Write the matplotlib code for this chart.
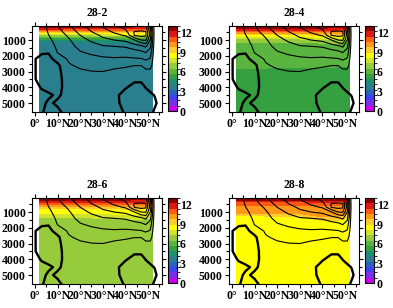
import numpy as np
import matplotlib
matplotlib.use("Agg")
from matplotlib import pyplot as plt
from matplotlib.colors import ListedColormap, BoundaryNorm

plt.rcParams['font.family'] = ['Liberation Serif', 'DejaVu Serif']
plt.rcParams['font.weight'] = 'bold'

titles = ["28-2", "28-4", "28-6", "28-8"]

# colour scale (16 boxes over 0..13)
box_colors = ['#c800f0', '#7a30e6', '#4040ee', '#2a62c0', '#2a7f8f', '#1c9070',
              '#34a040', '#5ab440', '#96cc3c', '#d0e42c', '#ffff00', '#ffcc30',
              '#ff9a18', '#ff5a14', '#dc1a10', '#8c0000']
cbar_ticks = [0, 3, 6, 9, 12]

# temperature grid
lat_t = [1.8, 10, 20, 30, 40, 46, 52.2]
dep_t = [110, 250, 400, 550, 700, 870, 1050, 1300, 1600, 2000, 2500, 3000, 3500, 4500, 5600]

temp_282 = [
    [12.8, 12.8, 12.8, 12.8, 12.7, 12.5, 12.3],
    [12.0, 12.0, 11.9, 11.9, 11.8, 11.6, 11.2],
    [10.2, 10.2, 10.2, 10.3, 10.4, 10.4, 10.0],
    [8.6, 8.6, 8.6, 8.7, 8.9, 9.0, 8.6],
    [7.0, 7.0, 7.0, 7.2, 7.5, 7.7, 7.2],
    [5.6, 5.6, 5.6, 5.7, 5.9, 6.0, 5.7],
    [4.2, 4.2, 4.2, 4.3, 4.4, 4.5, 4.3],
    [3.7, 3.7, 3.7, 3.7, 3.7, 3.7, 3.7],
    [3.6, 3.6, 3.6, 3.6, 3.6, 3.6, 3.6],
    [3.6, 3.6, 3.6, 3.6, 3.6, 3.6, 3.6],
    [3.6, 3.6, 3.6, 3.6, 3.6, 3.6, 3.6],
    [3.6, 3.6, 3.6, 3.6, 3.6, 3.6, 3.6],
    [3.6, 3.6, 3.6, 3.6, 3.6, 3.6, 3.6],
    [3.6, 3.6, 3.6, 3.6, 3.6, 3.6, 3.6],
    [3.6, 3.6, 3.6, 3.6, 3.6, 3.6, 3.6],
]
temp_284 = [
    [12.8, 12.8, 12.8, 12.8, 12.8, 12.7, 12.5],
    [12.3, 12.3, 12.3, 12.3, 12.2, 12.0, 11.8],
    [11.2, 11.2, 11.2, 11.2, 11.3, 11.2, 10.9],
    [9.8, 9.8, 9.8, 9.9, 10.0, 10.0, 9.7],
    [8.6, 8.6, 8.6, 8.7, 8.9, 9.0, 8.6],
    [7.5, 7.5, 7.5, 7.6, 7.8, 7.9, 7.5],
    [6.8, 6.8, 6.8, 6.8, 6.9, 7.0, 6.8],
    [6.2, 6.2, 6.2, 6.2, 6.2, 6.2, 6.2],
    [6.1, 6.1, 6.1, 6.1, 6.1, 6.1, 6.1],
    [6.0, 6.0, 6.0, 6.0, 6.0, 6.0, 6.0],
    [5.95, 5.95, 5.9, 5.85, 5.8, 5.75, 5.72],
    [5.5, 5.5, 5.5, 5.55, 5.6, 5.6, 5.6],
    [5.4, 5.4, 5.4, 5.4, 5.4, 5.4, 5.4],
    [5.4, 5.4, 5.4, 5.4, 5.4, 5.4, 5.4],
    [5.4, 5.4, 5.4, 5.4, 5.4, 5.4, 5.4],
]
temp_286 = [
    [12.8, 12.8, 12.8, 12.8, 12.8, 12.7, 12.5],
    [12.3, 12.3, 12.3, 12.3, 12.2, 12.0, 11.8],
    [11.4, 11.4, 11.4, 11.4, 11.4, 11.3, 11.0],
    [10.2, 10.2, 10.2, 10.2, 10.3, 10.3, 10.0],
    [9.3, 9.3, 9.3, 9.3, 9.4, 9.4, 9.2],
    [8.6, 8.6, 8.6, 8.6, 8.7, 8.7, 8.6],
    [8.2, 8.2, 8.25, 8.3, 8.5, 8.5, 8.3],
    [7.4, 7.4, 7.4, 7.45, 7.7, 7.7, 7.4],
    [7.0, 7.0, 7.0, 7.0, 7.0, 7.0, 7.0],
    [6.9, 6.9, 6.9, 6.9, 6.9, 6.9, 6.9],
    [6.9, 6.9, 6.9, 6.9, 6.9, 6.9, 6.9],
    [6.9, 6.9, 6.9, 6.9, 6.9, 6.9, 6.9],
    [6.9, 6.9, 6.9, 6.9, 6.9, 6.9, 6.9],
    [6.9, 6.9, 6.9, 6.9, 6.9, 6.9, 6.9],
    [6.9, 6.9, 6.9, 6.9, 6.9, 6.9, 6.9],
]
temp_288 = [
    [12.9, 12.9, 12.9, 12.9, 12.9, 12.8, 12.6],
    [12.5, 12.5, 12.5, 12.5, 12.4, 12.3, 12.0],
    [11.0, 11.0, 11.0, 11.0, 11.1, 11.1, 10.8],
    [10.6, 10.6, 10.6, 10.6, 10.7, 10.7, 10.5],
    [10.2, 10.2, 10.2, 10.2, 10.3, 10.3, 10.1],
    [10.0, 10.0, 10.0, 10.0, 10.1, 10.1, 9.95],
    [9.85, 9.85, 9.9, 9.95, 10.1, 10.1, 9.9],
    [8.7, 8.7, 8.75, 8.9, 9.8, 9.8, 8.9],
    [8.5, 8.5, 8.5, 8.55, 8.7, 8.75, 8.6],
    [8.5, 8.5, 8.5, 8.5, 8.5, 8.5, 8.5],
    [8.5, 8.5, 8.5, 8.5, 8.5, 8.5, 8.5],
    [8.5, 8.5, 8.5, 8.5, 8.5, 8.5, 8.5],
    [8.5, 8.5, 8.5, 8.5, 8.5, 8.5, 8.5],
    [8.5, 8.5, 8.5, 8.5, 8.5, 8.5, 8.5],
    [8.5, 8.5, 8.5, 8.5, 8.5, 8.5, 8.5],
]
temps = [temp_282, temp_284, temp_286, temp_288]

# overturning-like field drawn as black contours (same in every panel)
lat_p = [0, 3, 6, 10, 15, 20, 25, 30, 35, 40, 44, 47, 49, 51, 53, 55]
dep_p = [110, 300, 500, 700, 1000, 1400, 1800, 2200, 2600, 3000, 3500, 4000, 4500, 5000, 5600]
psi_cols = [
    [0.5, 0.5, 0.5, 0.5, 0.5, 0.5, 0.5, 0.1, 0.1, 0.1, 0.1, 0.3, 0.4, 0.4, 0.4],        # 0
    [1.2, 1.1, 1.0, 0.9, 0.8, 0.6, 0.3, -0.9, -0.9, -0.9, -0.8, -0.1, 0.3, 0.3, 0.1],  # 3
    [2.5, 2.3, 2.15, 1.95, 1.6, 1.0, 0.1, -0.6, -0.8, -0.8, -0.7, -0.4, 0.2, -0.2, -0.4],  # 6
    [3.9, 3.6, 3.3, 3.0, 2.7, 2.4, 2.05, 0.8, -0.4, -0.5, -0.5, -0.4, -0.2, 0.2, -0.3],  # 10
    [5.7, 5.3, 4.8, 4.3, 3.8, 3.3, 2.8, 2.3, 1.8, 1.2, 0.8, 0.6, 0.5, 0.5, 0.5],      # 15
    [7.3, 7.0, 6.5, 6.0, 5.3, 4.6, 3.8, 3.0, 2.4, 1.7, 1.1, 0.7, 0.55, 0.5, 0.5],     # 20
    [8.9, 8.4, 7.9, 7.2, 6.3, 5.3, 4.3, 3.4, 2.7, 1.95, 1.2, 0.8, 0.6, 0.5, 0.5],     # 25
    [10.3, 9.6, 9.0, 8.4, 7.5, 5.8, 4.6, 3.7, 2.8, 2.0, 1.2, 0.8, 0.6, 0.5, 0.5],     # 30
    [11.7, 11.0, 10.2, 9.4, 8.0, 6.0, 4.8, 3.8, 2.6, 1.6, 1.0, 0.6, 0.45, 0.45, 0.5],  # 35
    [12.8, 12.1, 11.3, 10.2, 8.5, 6.2, 4.8, 3.7, 2.3, 1.4, 0.6, 0.15, -0.6, -0.5, -0.1],  # 40
    [13.3, 13.3, 14.2, 14.1, 10.0, 7.0, 5.1, 3.8, 2.05, 1.3, 0.3, -0.5, -0.6, -0.6, -0.5],  # 44
    [13.0, 13.0, 14.6, 14.6, 12.0, 7.5, 5.4, 3.9, 2.05, 1.2, 0.3, -0.5, -0.6, -0.6, -0.5],  # 47
    [12.8, 13.0, 14.3, 14.3, 12.2, 8.3, 6.0, 4.3, 2.6, 1.6, 0.4, 0.05, -0.5, -0.6, -0.5],  # 49
    [8.0, 8.5, 9.0, 9.0, 8.0, 6.5, 5.0, 3.8, 2.8, 1.5, 0.8, 0.3, -0.2, -0.5, -0.3],   # 51
    [0.4, 0.5, 0.6, 0.6, 0.6, 0.6, 0.6, 0.6, 0.5, 0.5, 0.5, 0.4, 0.05, -0.2, 0.2],    # 53
    [0.3, 0.3, 0.3, 0.3, 0.3, 0.3, 0.3, 0.3, 0.3, 0.3, 0.3, 0.3, 0.3, 0.3, 0.3],      # 55
]
psi_levels = [2, 4, 6, 8, 10, 12, 14]

xticks = [0, 10, 20, 30, 40, 50]
xlabels = ["0°", "10°N", "20°N", "30°N", "40°N", "50°N"]
yticks = [1000, 2000, 3000, 4000, 5000]

W, H = 393, 308
fig = plt.figure(figsize=(W / 100, H / 100), dpi=100)

cmap = ListedColormap(box_colors)
levels = np.linspace(0, 13, 17)
norm = BoundaryNorm(levels, cmap.N)
psi = np.array(psi_cols).T
fs = 8.5

origins = [(32, 26), (229, 26), (32, 198), (229, 198)]
for k, (x0, y0) in enumerate(origins):
    ax = fig.add_axes([x0 / W, 1 - (y0 + 86) / H, 130 / W, 86 / H])
    cf = ax.contourf(lat_t, dep_t, np.array(temps[k]), levels=levels, cmap=cmap, norm=norm)
    ax.contour(lat_p, dep_p, psi, levels=psi_levels, colors='black', linewidths=0.8)
    ax.contour(lat_p, dep_p, psi, levels=[0], colors='black', linewidths=1.7)
    ax.set_xlim(-1.3, 56.2)
    ax.set_ylim(5570, 110)
    ax.set_xticks(xticks)
    ax.set_xticklabels(xlabels, fontweight='bold')
    ax.set_xticks(np.arange(5, 60, 10), minor=True)
    ax.set_yticks(yticks)
    ax.set_yticklabels([str(v) for v in yticks], fontweight='bold')
    ax.set_yticks([500, 1500, 2500, 3500, 4500], minor=True)
    ax.tick_params(which='both', direction='out', top=True, right=True,
                   labelsize=fs, pad=1.5, width=0.8)
    ax.tick_params(which='major', length=3)
    ax.tick_params(which='minor', length=2)
    for s in ax.spines.values():
        s.set_linewidth(0.8)
    ax.set_title(titles[k], fontsize=fs, fontweight='bold', pad=7)

    cax = fig.add_axes([(x0 + 136) / W, 1 - (y0 + 85) / H, 9 / W, 85 / H])
    cb = fig.colorbar(cf, cax=cax, ticks=cbar_ticks)
    cb.ax.tick_params(length=0, labelsize=fs, pad=2)
    cb.ax.set_yticklabels([str(v) for v in cbar_ticks], fontweight='bold')
    cb.outline.set_linewidth(0.8)

fig.savefig("out.png", dpi=100)
